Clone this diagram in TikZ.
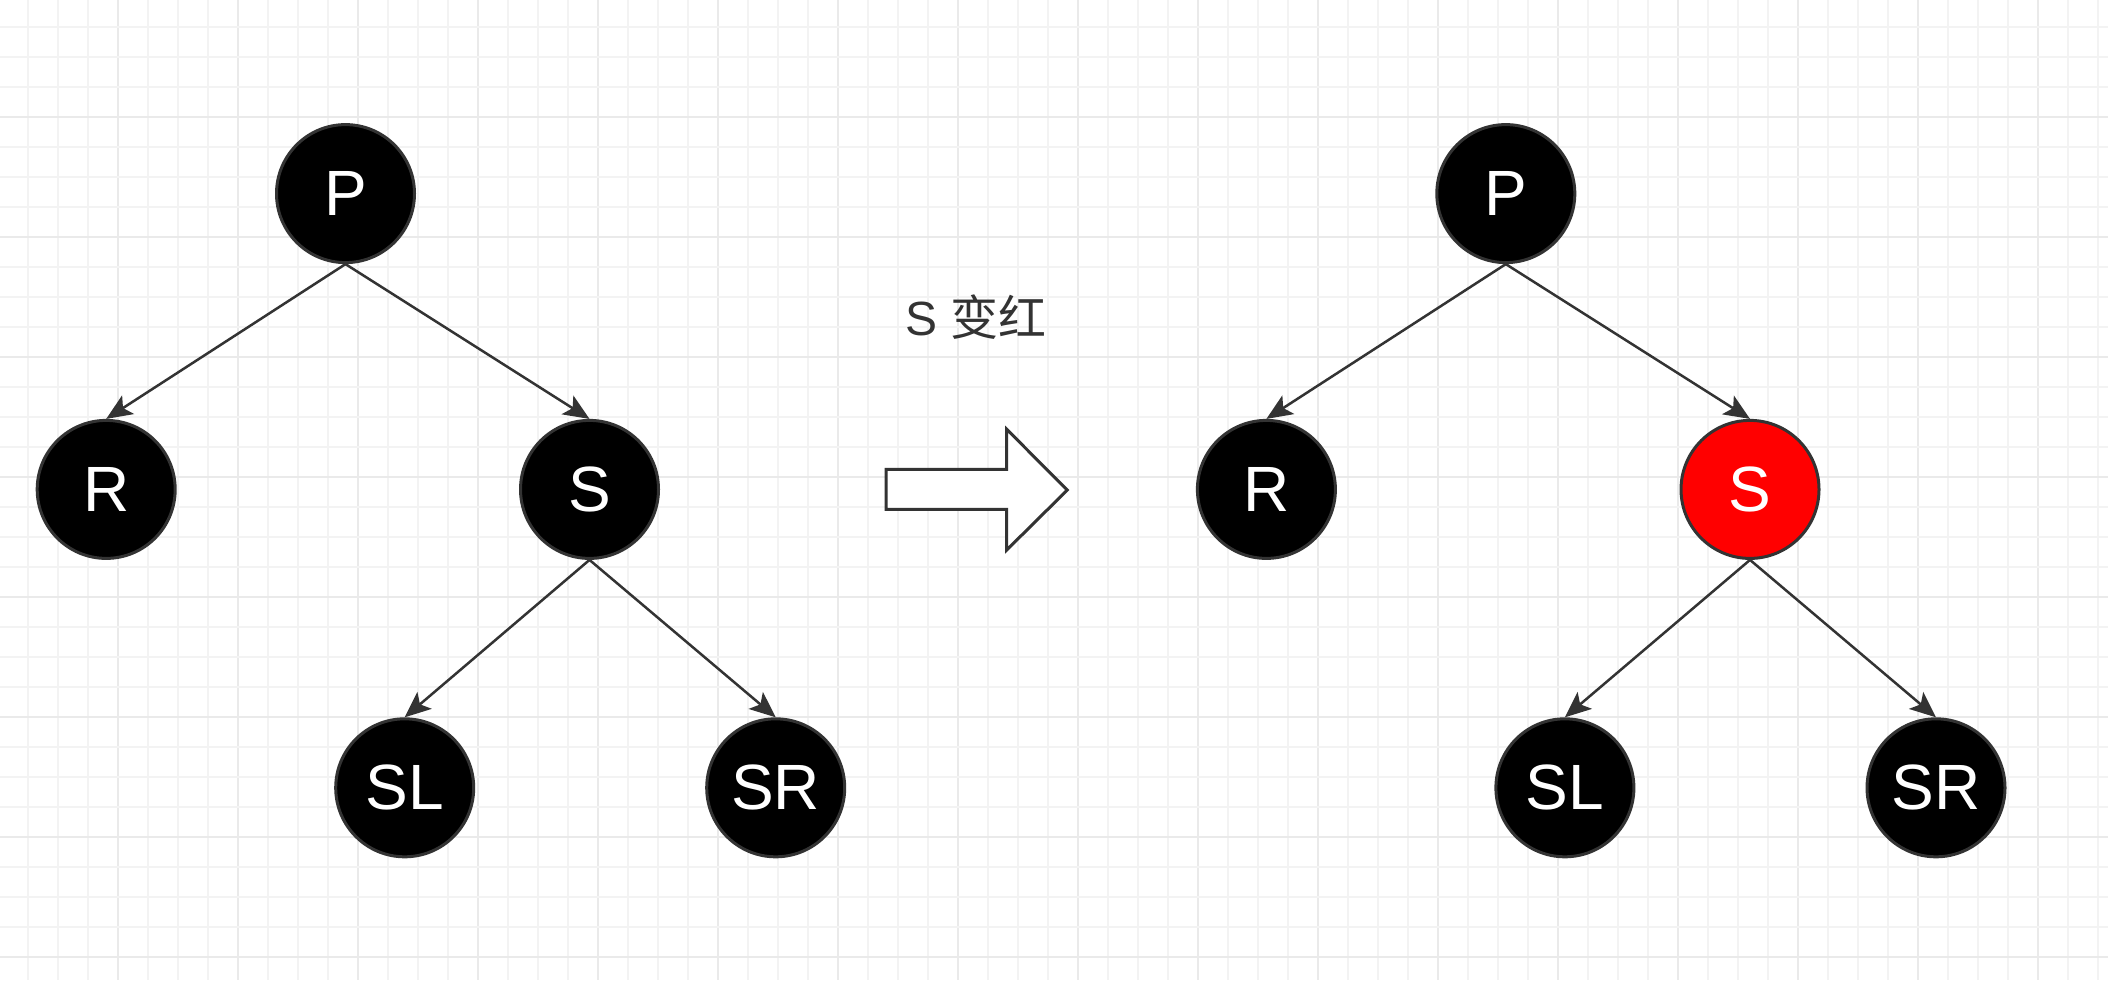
\documentclass[tikz,border=0pt]{standalone}
\usepackage{fontspec}
\setmainfont{Liberation Sans}
\newfontfamily\cjk{Noto Sans CJK SC}
\usetikzlibrary{arrows.meta}
\definecolor{edgegray}{HTML}{333333}
\definecolor{gridminor}{HTML}{F3F3F3}
\definecolor{gridmajor}{HTML}{EAEAEA}
\definecolor{nodered}{HTML}{FF0000}
\tikzset{
  rbnode/.style={circle, draw=edgegray, line width=1.5pt, fill=black, minimum size=69pt, inner sep=0pt,
    text=white, font=\fontsize{32}{32}\selectfont},
  rednode/.style={rbnode, fill=nodered},
  edgearrow/.style={draw=edgegray, line width=1.25pt, -{Stealth[length=13pt,width=11pt,inset=3pt]}},
  bigarrow/.style={draw=edgegray, line width=1.5pt, fill=white, line join=miter},
  caption/.style={text=edgegray, font=\fontsize{24}{24}\selectfont}
}
\begin{document}
\begin{tikzpicture}[x=0.5pt,y=-0.5pt]
\useasboundingbox (0,0) rectangle (2108,980);
\fill[white] (0,0) rectangle (2108,980);
% grid
\foreach \k in {0,...,69} {
  \pgfmathsetmacro{\gx}{28.3+30*\k}
  \pgfmathtruncatemacro{\ismaj}{mod(\k+1,4)==0 ? 1 : 0}
  \ifnum\ismaj=1
    \draw[gridmajor, line width=1pt] (\gx,0) -- (\gx,980);
  \else
    \draw[gridminor, line width=1pt] (\gx,0) -- (\gx,980);
  \fi
}
\foreach \k in {0,...,32} {
  \pgfmathsetmacro{\gy}{26.7+30*\k}
  \pgfmathtruncatemacro{\ismaj}{mod(\k+1,4)==0 ? 1 : 0}
  \ifnum\ismaj=1
    \draw[gridmajor, line width=1pt] (0,\gy) -- (2108,\gy);
  \else
    \draw[gridminor, line width=1pt] (0,\gy) -- (2108,\gy);
  \fi
}
% left tree
\node[rbnode] (p1) at (345.5,193.6) {P};
\node[rbnode] (r1) at (106.2,489.4) {R};
\node[rbnode] (s1) at (589.5,489.4) {S};
\node[rbnode] (sl1) at (404.7,787.8) {SL};
\node[rbnode] (sr1) at (775.7,787.8) {SR};
\draw[edgearrow] (p1.south) -- (r1.north);
\draw[edgearrow] (p1.south) -- (s1.north);
\draw[edgearrow] (s1.south) -- (sl1.north);
\draw[edgearrow] (s1.south) -- (sr1.north);
% right tree
\node[rbnode] (p2) at (1505.8,193.6) {P};
\node[rbnode] (r2) at (1266.4,489.4) {R};
\node[rednode] (s2) at (1750,489.4) {S};
\node[rbnode] (sl2) at (1564.9,787.8) {SL};
\node[rbnode] (sr2) at (1936,787.8) {SR};
\draw[edgearrow] (p2.south) -- (r2.north);
\draw[edgearrow] (p2.south) -- (s2.north);
\draw[edgearrow] (s2.south) -- (sl2.north);
\draw[edgearrow] (s2.south) -- (sr2.north);
% transformation arrow and caption
\draw[bigarrow] (886,469.3) -- (1006.7,469.3) -- (1006.7,429.3) -- (1067.3,490) -- (1006.7,550) -- (1006.7,509.3) -- (886,509.3) -- cycle;
\node[caption] (cap) at (976,317) {S {\cjk 变红}};
\end{tikzpicture}
\end{document}
